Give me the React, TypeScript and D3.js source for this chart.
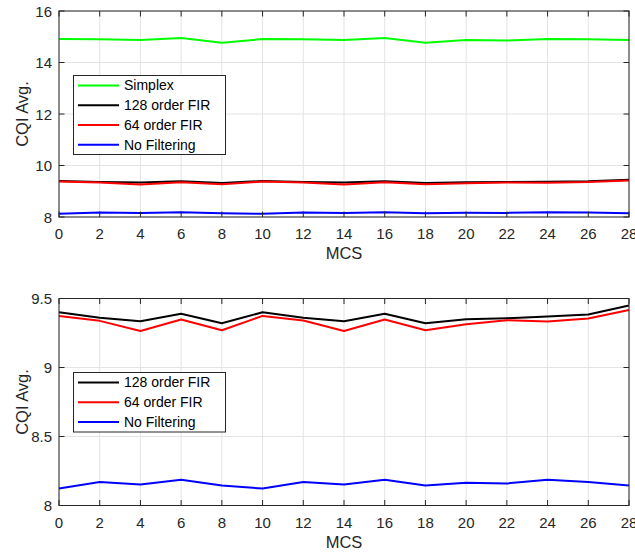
import React from "react";
import * as d3 from "d3";

// MCS index on the x axis
const mcs = [0, 2, 4, 6, 8, 10, 12, 14, 16, 18, 20, 22, 24, 26, 28];

// Average CQI per MCS for each receiver configuration
const simplex = [14.91, 14.9, 14.87, 14.95, 14.77, 14.91, 14.9, 14.87, 14.95, 14.77, 14.87, 14.85, 14.91, 14.9, 14.87];
const fir128 = [9.4, 9.36, 9.335, 9.39, 9.32, 9.4, 9.36, 9.335, 9.39, 9.32, 9.35, 9.357, 9.37, 9.384, 9.45];
const fir64 = [9.374, 9.338, 9.265, 9.348, 9.27, 9.374, 9.34, 9.265, 9.348, 9.27, 9.314, 9.343, 9.333, 9.355, 9.417];
const noFilter = [8.123, 8.171, 8.152, 8.186, 8.145, 8.123, 8.171, 8.152, 8.186, 8.145, 8.164, 8.16, 8.186, 8.171, 8.145];

const xTicks = [0, 2, 4, 6, 8, 10, 12, 14, 16, 18, 20, 22, 24, 26, 28];
const topYTicks = [8, 10, 12, 14, 16];
const bottomYTicks = [8, 8.5, 9, 9.5];

interface Series {
  name: string;
  color: string;
  values: number[];
}

const topSeries: Series[] = [
  { name: "Simplex", color: "#00ff00", values: simplex },
  { name: "128 order FIR", color: "#000000", values: fir128 },
  { name: "64 order FIR", color: "#ff0000", values: fir64 },
  { name: "No Filtering", color: "#0000ff", values: noFilter },
];
const bottomSeries: Series[] = topSeries.slice(1);

const FONT = "'Liberation Sans', Arial, Helvetica, sans-serif";
const AXIS = "#262626";
const GRID = "#e3e3e3";

interface PanelProps {
  top: number;
  bottom: number;
  yDomain: [number, number];
  yTicks: number[];
  series: Series[];
  legendTop: number;
  legendBottom: number;
}

const LEFT = 59;
const RIGHT = 629;
const TICK = 5.5;

function Panel({ top, bottom, yDomain, yTicks, series, legendTop, legendBottom }: PanelProps) {
  const x = d3.scaleLinear().domain([0, 28]).range([LEFT, RIGHT]);
  const y = d3.scaleLinear().domain(yDomain).range([bottom, top]);
  const line = d3
    .line<number>()
    .x((_, i) => x(mcs[i]))
    .y((d) => y(d));

  const legLeft = 73.5;
  const legRight = 225.5;
  const rowH = (legendBottom - legendTop) / series.length;

  return (
    <g>
      {/* grid */}
      {xTicks.map((t) => (
        <line key={"gx" + t} x1={x(t)} x2={x(t)} y1={top} y2={bottom} stroke={GRID} strokeWidth={1} />
      ))}
      {yTicks.map((t) => (
        <line key={"gy" + t} x1={LEFT} x2={RIGHT} y1={y(t)} y2={y(t)} stroke={GRID} strokeWidth={1} />
      ))}

      {/* data */}
      {series.map((s) => (
        <path key={s.name} d={line(s.values) ?? ""} fill="none" stroke={s.color} strokeWidth={2} strokeLinejoin="round" />
      ))}

      {/* ticks on all four sides */}
      {xTicks.map((t) => (
        <g key={"tx" + t}>
          <line x1={x(t)} x2={x(t)} y1={bottom} y2={bottom - TICK} stroke={AXIS} />
          <line x1={x(t)} x2={x(t)} y1={top} y2={top + TICK} stroke={AXIS} />
          <text x={x(t)} y={bottom + 22} textAnchor="middle" fontSize={15} fill={AXIS} fontFamily={FONT}>
            {t}
          </text>
        </g>
      ))}
      {yTicks.map((t) => (
        <g key={"ty" + t}>
          <line x1={LEFT} x2={LEFT + TICK} y1={y(t)} y2={y(t)} stroke={AXIS} />
          <line x1={RIGHT} x2={RIGHT - TICK} y1={y(t)} y2={y(t)} stroke={AXIS} />
          <text x={LEFT - 7} y={y(t) + 5.5} textAnchor="end" fontSize={15} fill={AXIS} fontFamily={FONT}>
            {String(t)}
          </text>
        </g>
      ))}
      <rect x={LEFT} y={top} width={RIGHT - LEFT} height={bottom - top} fill="none" stroke={AXIS} strokeWidth={1} />

      {/* axis titles */}
      <text x={x(14)} y={bottom + 42} textAnchor="middle" fontSize={16.5} fill={AXIS} fontFamily={FONT}>
        MCS
      </text>
      <text
        transform={`translate(28,${(top + bottom) / 2}) rotate(-90)`}
        textAnchor="middle"
        fontSize={16.5}
        fill={AXIS}
        fontFamily={FONT}
      >
        CQI Avg.
      </text>

      {/* legend */}
      <rect x={legLeft} y={legendTop} width={legRight - legLeft} height={legendBottom - legendTop} fill="#ffffff" stroke={AXIS} strokeWidth={1} />
      {series.map((s, i) => {
        const cy = legendTop + rowH * (i + 0.5);
        return (
          <g key={"lg" + s.name}>
            <line x1={78} x2={119} y1={cy} y2={cy} stroke={s.color} strokeWidth={2} />
            <text x={124} y={cy + 5} fontSize={14} fill="#000" fontFamily={FONT}>
              {s.name}
            </text>
          </g>
        );
      })}
    </g>
  );
}

export default function App() {
  return (
    <svg width={635} height={553} style={{ position: "absolute", left: 0, top: 0, background: "#fff" }}>
      <rect width={635} height={553} fill="#ffffff" />
      <Panel
        top={11}
        bottom={217}
        yDomain={[8, 16]}
        yTicks={topYTicks}
        series={topSeries}
        legendTop={75.5}
        legendBottom={154.5}
      />
      <Panel
        top={298.5}
        bottom={505.5}
        yDomain={[8, 9.5]}
        yTicks={bottomYTicks}
        series={bottomSeries}
        legendTop={372.5}
        legendBottom={432}
      />
    </svg>
  );
}
